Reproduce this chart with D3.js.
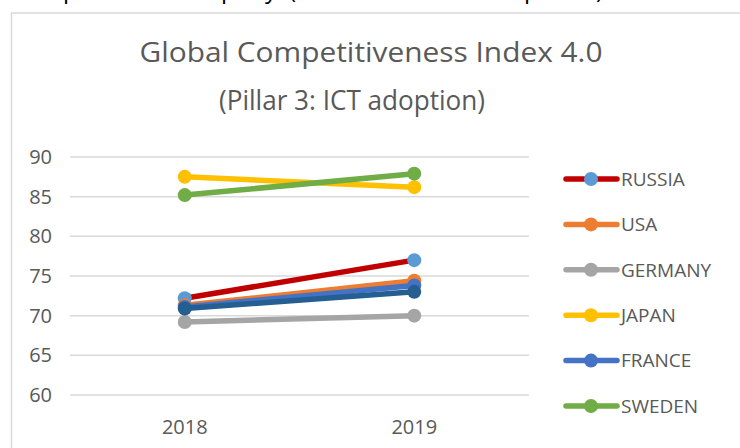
<!DOCTYPE html>
<html>
<head>
<meta charset="utf-8">
<script src="https://cdn.jsdelivr.net/npm/d3@7"></script>
<style>
html,body{margin:0;padding:0;background:#fff;}
svg{display:block;}
</style>
</head>
<body>
<svg id="chart" width="740" height="448"></svg>
<script>
const years = ["2018", "2019"];
const seriesNames = ["RUSSIA", "USA", "GERMANY", "JAPAN", "FRANCE", "SWEDEN", "UK"];
const russia  = [72.2, 77.0];
const usa     = [71.3, 74.4];
const germany = [69.2, 70.0];
const japan   = [87.5, 86.2];
const france  = [71.1, 73.8];
const sweden  = [85.2, 87.9];
const uk      = [70.9, 73.0];
const yTicks = [60, 65, 70, 75, 80, 85, 90];
const titleLines = ["Global Competitiveness Index 4.0", "(Pillar 3: ICT adoption)"];

const lineColors   = ["#C00000", "#ED7D31", "#A5A5A5", "#FFC000", "#4472C4", "#70AD47", "#255E91"];
const markerColors = ["#5B9BD5", "#ED7D31", "#A5A5A5", "#FFC000", "#4472C4", "#70AD47", "#255E91"];
const seriesValues = [russia, usa, germany, japan, france, sweden, uk];

const svg = d3.select("#chart");
const font = "'Open Sans', 'Liberation Sans', sans-serif";
const grey = "#595959";

// cropped caption fragments above the chart (document text cut off)
const cap = svg.append("text").attr("y", -2).attr("font-family", font)
  .attr("font-size", 24).attr("fill", "#000");
[["p",63],["p",221],["y",265],["(",289],["p",524],[")",596]].forEach(([c,x]) =>
  cap.append("tspan").attr("x", x).text(c));

// chart frame
svg.append("rect").attr("x", 11.5).attr("y", 13).attr("width", 740).attr("height", 460)
  .attr("fill", "#fff").attr("stroke", "#D9D9D9").attr("stroke-width", 1.5);

// title
svg.append("text").attr("x", 371).attr("y", 62).attr("text-anchor", "middle")
  .attr("font-family", font).attr("font-size", 26.5).attr("fill", grey)
  .attr("textLength", 463).attr("lengthAdjust", "spacingAndGlyphs").text(titleLines[0]);
svg.append("text").attr("x", 352).attr("y", 110).attr("text-anchor", "middle")
  .attr("font-family", font).attr("font-size", 27).attr("fill", grey)
  .attr("textLength", 266).attr("lengthAdjust", "spacingAndGlyphs").text(titleLines[1]);

const x = d3.scaleBand().domain(years).range([70, 529]);
const y = d3.scaleLinear().domain([60, 90]).range([395, 157]);

// gridlines
svg.append("g").selectAll("line").data(yTicks).join("line")
  .attr("x1", 70).attr("x2", 529)
  .attr("y1", d => y(d)).attr("y2", d => y(d))
  .attr("stroke", "#D9D9D9").attr("stroke-width", 1.5);

// y axis labels
const yAxis = svg.append("g").attr("transform", "translate(52,0)")
  .call(d3.axisLeft(y).tickValues(yTicks).tickSize(0).tickPadding(0));
yAxis.select(".domain").remove();
yAxis.selectAll("text").attr("font-family", font).attr("font-size", 20).attr("fill", grey);

// x axis labels
const xAxis = svg.append("g").attr("transform", "translate(0,427)")
  .call(d3.axisBottom(x).tickSize(0).tickPadding(0));
xAxis.select(".domain").remove();
xAxis.selectAll("text").attr("font-family", font).attr("font-size", 20).attr("fill", grey)
  .attr("dy", "0.36em");

const cx = d => x(d) + x.bandwidth() / 2;
const line = d3.line().x((d, i) => cx(years[i])).y(d => y(d));

seriesValues.forEach((vals, s) => {
  const g = svg.append("g");
  g.append("path").datum(vals).attr("d", line).attr("fill", "none")
    .attr("stroke", lineColors[s]).attr("stroke-width", 5.5).attr("stroke-linecap", "round");
  g.selectAll("circle").data(vals).join("circle")
    .attr("cx", (d, i) => cx(years[i])).attr("cy", d => y(d)).attr("r", 7)
    .attr("fill", markerColors[s]);
});

// legend (7th entry falls below the visible area in the reference)
const leg = svg.append("g");
seriesNames.slice(0, 6).forEach((name, s) => {
  const ly = 179 + s * 45.4;
  leg.append("line").attr("x1", 566).attr("x2", 617).attr("y1", ly).attr("y2", ly)
    .attr("stroke", lineColors[s]).attr("stroke-width", 5.5).attr("stroke-linecap", "round");
  leg.append("circle").attr("cx", 591).attr("cy", ly).attr("r", 7).attr("fill", markerColors[s]);
  leg.append("text").attr("x", 621).attr("y", ly).attr("dy", "0.36em")
    .attr("font-family", font).attr("font-size", 19).attr("fill", grey).text(name);
});
</script>
</body>
</html>
